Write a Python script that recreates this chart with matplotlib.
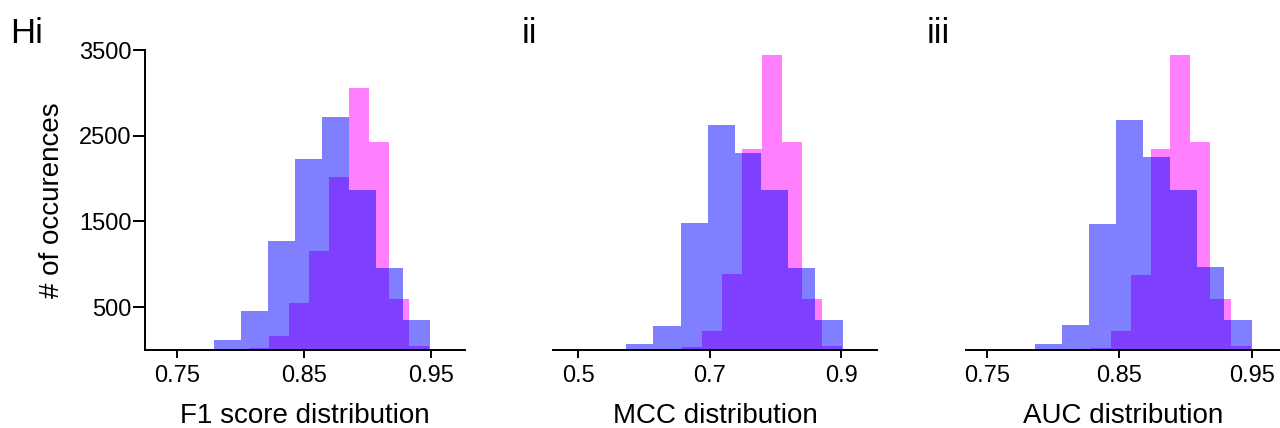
import numpy as np
import matplotlib
matplotlib.use("Agg")
import matplotlib.pyplot as plt

plt.rcParams['font.family'] = ['Liberation Sans', 'DejaVu Sans']

# ---------------- data ----------------
f1_blue_edges = [0.7584, 0.7794, 0.8006, 0.8218, 0.8431, 0.8643, 0.8855, 0.9065, 0.9277, 0.9492]
f1_blue_counts = [10, 120, 458, 1275, 2224, 2716, 1868, 959, 353]
f1_pink_edges = [0.8069, 0.8226, 0.8383, 0.8541, 0.8698, 0.8855, 0.9012, 0.9170, 0.9327, 0.9484]
f1_pink_counts = [22, 158, 544, 1150, 2017, 3054, 2424, 590, 42]

mcc_blue_edges = [0.5320, 0.5726, 0.6142, 0.6563, 0.6970, 0.7386, 0.7787, 0.8198, 0.8604, 0.9025]
mcc_blue_counts = [10, 73, 283, 1478, 2630, 2300, 1868, 959, 353]
mcc_pink_edges = [0.6579, 0.6883, 0.7188, 0.7492, 0.7792, 0.8096, 0.8401, 0.8706, 0.9010]
mcc_pink_counts = [34, 225, 890, 2344, 3443, 2424, 590, 42]

auc_blue_edges = [0.7664, 0.7865, 0.8071, 0.8275, 0.8479, 0.8682, 0.8886, 0.9090, 0.9291, 0.9500]
auc_blue_counts = [10, 73, 295, 1474, 2681, 2255, 1866, 963, 353]
auc_pink_edges = [0.8285, 0.8436, 0.8587, 0.8738, 0.8886, 0.9037, 0.9188, 0.9342, 0.9492]
auc_pink_counts = [22, 225, 878, 2344, 3443, 2424, 590, 42]

xlabels = ["F1 score distribution", "MCC distribution", "AUC distribution"]
panel_tags = ["Hi", "ii", "iii"]
f1_ticks = [0.75, 0.85, 0.95]
mcc_ticks = [0.5, 0.7, 0.9]
auc_ticks = [0.75, 0.85, 0.95]
y_ticks = [500, 1500, 2500, 3500]

# ---------------- figure ----------------
W, H = 1280, 428
fig = plt.figure(figsize=(W / 100, H / 100), dpi=100)

def px_axes(left, right, top=50, bottom=350):
    return fig.add_axes([left / W, 1 - bottom / H, (right - left) / W, (bottom - top) / H])

ax1 = px_axes(145, 465)
ax2 = px_axes(553, 877)
ax3 = px_axes(966, 1280)

panels = [
    (ax1, f1_blue_edges, f1_blue_counts, f1_pink_edges, f1_pink_counts, f1_ticks, (0.7251, 0.9767)),
    (ax2, mcc_blue_edges, mcc_blue_counts, mcc_pink_edges, mcc_pink_counts, mcc_ticks, (0.4614, 0.9548)),
    (ax3, auc_blue_edges, auc_blue_counts, auc_pink_edges, auc_pink_counts, auc_ticks, (0.7344, 0.9714)),
]

for i, (ax, be, bc, pe, pc, ticks, xlim) in enumerate(panels):
    pe = np.asarray(pe)
    be = np.asarray(be)
    ax.bar(pe[:-1], pc, width=np.diff(pe), align='edge', color='magenta', alpha=0.5, linewidth=0)
    ax.bar(be[:-1], bc, width=np.diff(be), align='edge', color='blue', alpha=0.5, linewidth=0)
    ax.set_xlim(*xlim)
    ax.set_ylim(0, 3500)
    ax.set_xticks(ticks)
    ax.set_xticklabels([f"{t:g}" for t in ticks])
    ax.spines['top'].set_visible(False)
    ax.spines['right'].set_visible(False)
    ax.spines['bottom'].set_linewidth(1.4)
    ax.spines['left'].set_linewidth(1.4)
    ax.tick_params(axis='x', length=6, width=1.4, pad=5, labelsize=17)
    ax.tick_params(axis='y', length=8.5, width=1.4, pad=1, labelsize=17)
    ax.set_xlabel(xlabels[i], fontsize=20, labelpad=11)
    if i == 0:
        ax.set_yticks(y_ticks)
        ax.set_ylabel("# of occurences", fontsize=20, labelpad=10)
    else:
        ax.spines['left'].set_visible(False)
        ax.set_yticks([])

fig.text(10 / W, 1 - 43 / H, panel_tags[0], fontsize=25, va='baseline', ha='left')
fig.text(522 / W, 1 - 43 / H, panel_tags[1], fontsize=25, va='baseline', ha='left')
fig.text(927 / W, 1 - 43 / H, panel_tags[2], fontsize=25, va='baseline', ha='left')

fig.savefig("out.png", dpi=100)
